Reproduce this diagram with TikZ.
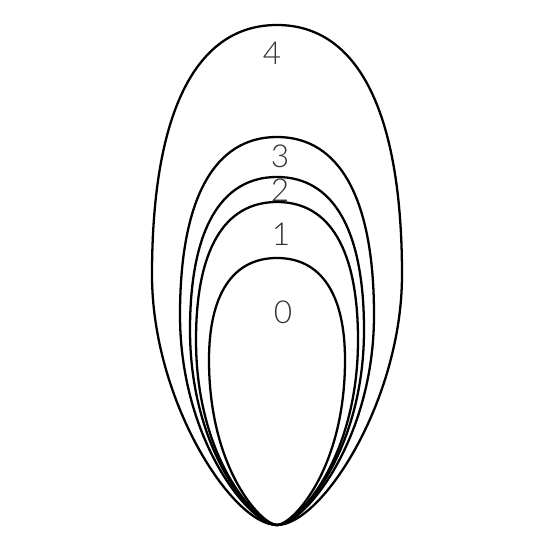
\documentclass[tikz,border=0pt]{standalone}
\usepackage{fontspec}
\newfontfamily\digitfont{Lato Light}

\begin{document}
\begin{tikzpicture}[x=0.02cm,y=-0.02cm]
    \useasboundingbox (0,0) rectangle (550,550);
    \tikzset{shell/.style={line width=1.3pt,black},
             level/.style={inner sep=0pt,text=black!80,font=\digitfont\fontsize{18}{20}\selectfont}}

    \coordinate (tip) at (277,525);

    % level 4
    \draw[shell] (tip) .. controls (232,525) and (152,400) .. (152,275)
        .. controls (152,112) and (196,25) .. (277,25)
        .. controls (358,25) and (402,112) .. (402,275)
        .. controls (402,400) and (322,525) .. (tip);
    % level 3
    \draw[shell] (tip) .. controls (250,525) and (180,440) .. (180,315)
        .. controls (180,199) and (214,137) .. (277,137)
        .. controls (340,137) and (374,199) .. (374,315)
        .. controls (374,440) and (304,525) .. (tip);
    % level 2
    \draw[shell] (tip) .. controls (255,525) and (190,452) .. (190,330)
        .. controls (190,231) and (220,177) .. (277,177)
        .. controls (334,177) and (364,231) .. (364,330)
        .. controls (364,452) and (299,525) .. (tip);
    % level 1
    \draw[shell] (tip) .. controls (258,525) and (196,460) .. (196,340)
        .. controls (196,250) and (224,202) .. (277,202)
        .. controls (330,202) and (358,250) .. (358,340)
        .. controls (358,460) and (296,525) .. (tip);
    % level 0
    \draw[shell] (tip) .. controls (262,525) and (209,470) .. (209,360)
        .. controls (209,294) and (233,258) .. (277,258)
        .. controls (321,258) and (345,294) .. (345,360)
        .. controls (345,470) and (292,525) .. (tip);

    \node[level] (lab4) at (272,53) {4};
    \node[level] (lab3) at (280,156) {3};
    \node[level] (lab2) at (280,190) {2};
    \node[level] (lab1) at (281,234) {1};
    \node[level] (lab0) at (283,312) {0};
\end{tikzpicture}
\end{document}
